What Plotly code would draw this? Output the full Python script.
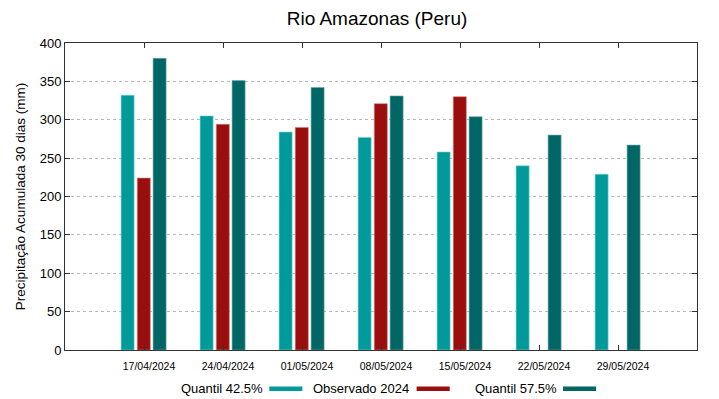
import plotly.graph_objects as go

categories = ["17/04/2024", "24/04/2024", "01/05/2024", "08/05/2024",
              "15/05/2024", "22/05/2024", "29/05/2024"]
q425 = [332, 305, 284, 277, 258, 240, 229]
obs2024 = [224, 294, 290, 321, 330, None, None]
q575 = [380, 351, 342, 331, 304, 280, 267]
series_names = ["Quantil 42.5%", "Observado 2024", "Quantil 57.5%"]
colors = ["#009a9a", "#9a0e0e", "#006666"]
edge_colors = ["#7fd0d0", "#d08080", "#70a8a8"]
y_ticks = [0, 50, 100, 150, 200, 250, 300, 350, 400]

font = "Liberation Sans, Arial, sans-serif"
# page has an 8px body margin: figure spans page x 8..719, y 8..399
OFF = 8
W, H = 711, 391
L, R, T, B = 50, 22, 35, 49
pw = W - L - R
ph = H - T - B

fig = go.Figure()
bar_w = 0.165
offsets = [-0.29, -0.085, 0.115]
for vals, name, col, ec, off in zip([q425, obs2024, q575], series_names, colors, edge_colors, offsets):
    fig.add_trace(go.Bar(x=categories, y=vals, name=name, width=bar_w, offset=off,
                         marker=dict(color=col, line=dict(color=ec, width=0.6)),
                         showlegend=False))

fig.update_layout(
    width=W, height=H,
    margin=dict(l=L, r=R, t=T, b=B),
    plot_bgcolor="white", paper_bgcolor="white",
    barmode="overlay",
    title=dict(text="Rio Amazonas (Peru)", x=(377 - OFF) / W, xanchor="center",
               y=1 - (18 - OFF) / H, yanchor="middle",
               font=dict(family=font, size=19, color="black")),
    font=dict(family=font, color="black"),
)
fig.update_xaxes(type="category", range=[-1, 7], tickvals=categories, ticktext=categories,
                 ticks="inside", ticklen=5, tickcolor="#333", mirror="ticks",
                 showline=True, linecolor="#333", linewidth=1, showgrid=False,
                 ticklabelshift=5, ticklabelstandoff=6,
                 tickfont=dict(size=10.5, family=font, color="black"))
fig.update_yaxes(range=[0, 400], tickvals=y_ticks, ticks="inside", ticklen=5, tickcolor="#333",
                 mirror="ticks", showline=True, linecolor="#333", linewidth=1,
                 showgrid=True, gridcolor="#b8b8b8", griddash="dot", gridwidth=1,
                 zeroline=False, tickfont=dict(size=13, family=font, color="black"),
                 title=dict(text="Precipitação Acumulada 30 dias (mm)", standoff=10,
                            font=dict(size=13.5, family=font, color="black")))

# gnuplot-style legend: text followed by swatch (page coordinates converted to paper)
def px(x):
    return (x - OFF - L) / pw
def py(y):
    return (H - B - (y - OFF)) / ph
legend_items = [(257.7, 264.6, 298), (405.8, 413.5, 447), (555, 561.5, 595)]
for (tx, s0, s1), name, col in zip(legend_items, series_names, colors):
    fig.add_annotation(xref="paper", yref="paper", x=px(tx), y=py(388), xanchor="right",
                       yanchor="middle", text=name, showarrow=False, xshift=2,
                       font=dict(size=13, family=font, color="black"))
    fig.add_shape(type="rect", xref="paper", yref="paper", x0=px(s0), x1=px(s1),
                  y0=py(391), y1=py(386.5), fillcolor=col, line=dict(width=0))

fig.write_html("out.html")
